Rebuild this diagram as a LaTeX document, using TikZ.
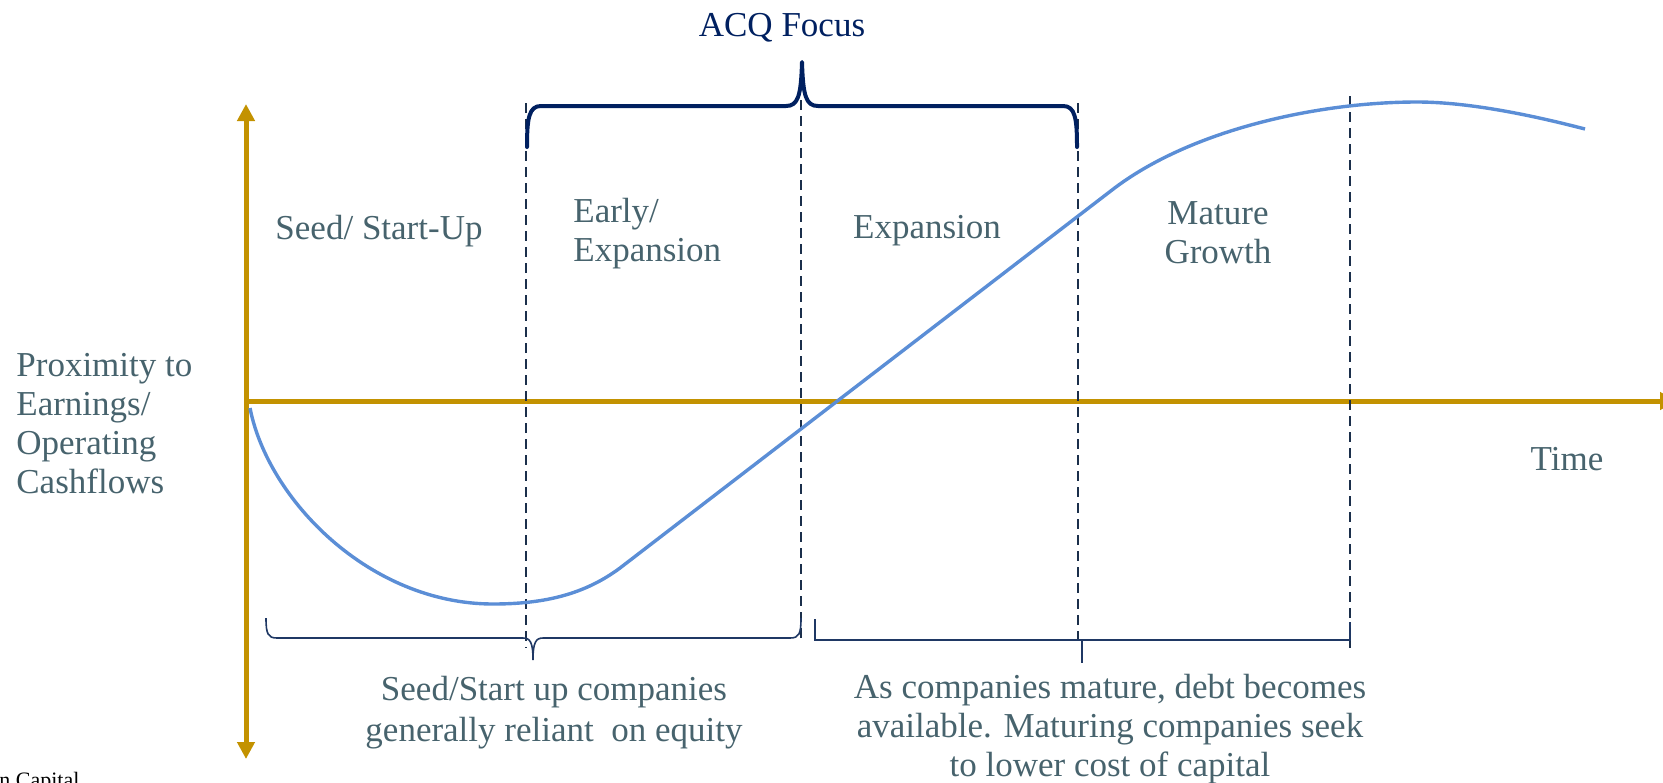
\documentclass[tikz,border=0pt]{standalone}
\usepackage{fontspec}
\setmainfont{Liberation Serif}
\usetikzlibrary{arrows.meta}
\definecolor{axisgold}{RGB}{195,146,0}
\definecolor{curveblue}{RGB}{91,142,214}
\definecolor{labelgray}{RGB}{71,99,109}
\definecolor{navy}{RGB}{0,32,96}
\definecolor{dashnavy}{RGB}{27,47,75}
\definecolor{bracenavy}{RGB}{31,56,100}
\tikzset{
  axisline/.style={draw=axisgold, line width=2.5pt},
  axishead/.style={-{Triangle[width=8.5pt,length=8.5pt]}},
  curveline/.style={draw=curveblue, line width=1.7pt},
  phaseline/.style={draw=dashnavy, line width=1.1pt, dash pattern=on 5pt off 3pt},
  topbrace/.style={draw=navy, line width=2pt, line cap=round, line join=round},
  lowbrace/.style={draw=bracenavy, line width=0.8pt},
  lbl/.style={text=labelgray, inner sep=0pt, font=\fontsize{17.5}{19.5}\selectfont},
  note/.style={text=labelgray, inner sep=0pt, align=center, font=\fontsize{17.5}{20.5}\selectfont}
}
\begin{document}
\begin{tikzpicture}[x=0.5pt,y=-0.5pt]
\useasboundingbox (0,0) rectangle (1663,782);
% axes
\coordinate (ytop) at (246,104);
\coordinate (ybot) at (246,759);
\coordinate (xorig) at (246,401);
\coordinate (xend) at (1677,401);
\draw[axisline, {Triangle[width=8.5pt,length=8.5pt]}-{Triangle[width=8.5pt,length=8.5pt]}] (ytop) -- (ybot);
\draw[axisline, axishead] (xorig) -- (xend);
% phase separators
\coordinate (d1t) at (526,103); \coordinate (d1b) at (526,648);
\coordinate (d2t) at (801,100); \coordinate (d2b) at (801,638);
\coordinate (d3t) at (1078,103); \coordinate (d3b) at (1078,640);
\coordinate (d4t) at (1350,96); \coordinate (d4b) at (1350,648);
\draw[phaseline] (d1t) -- (d1b);
\draw[phaseline] (d2t) -- (d2b);
\draw[phaseline] (d3t) -- (d3b);
\draw[phaseline] (d4t) -- (d4b);
% curve
\coordinate (c0) at (250,408);
\coordinate (cmin) at (493,604);
\coordinate (c1) at (620,568);
\coordinate (c2) at (1112,190);
\coordinate (cmax) at (1417,102);
\coordinate (cend) at (1585,129);
\draw[curveline] (c0) .. controls (268,500) and (370,604) .. (cmin)
  .. controls (545,604) and (585,594) .. (c1) -- (c2)
  .. controls (1191,129) and (1320,102) .. (cmax)
  .. controls (1470,102) and (1535,116) .. (cend);
% top brace
\coordinate (tbL) at (527,147);
\coordinate (tbT) at (802,62);
\coordinate (tbR) at (1077,147);
\draw[topbrace] (tbL) .. controls (527,118) and (529,106) .. (541,106) -- (786,106)
  .. controls (798,106) and (801,96) .. (tbT)
  .. controls (803,96) and (806,106) .. (818,106) -- (1063,106)
  .. controls (1075,106) and (1077,118) .. (tbR);
% lower left brace
\coordinate (lbL) at (266,618);
\coordinate (lbT) at (533,660);
\coordinate (lbR) at (801,618);
\draw[lowbrace] (lbL) .. controls (266,634) and (268,638) .. (277,638) -- (523,638)
  .. controls (530,638) and (533,642) .. (lbT)
  .. controls (533,642) and (536,638) .. (543,638) -- (790,638)
  .. controls (799,638) and (801,634) .. (lbR);
% lower right bracket
\coordinate (rbL) at (815,619);
\coordinate (rbC) at (815,640);
\coordinate (rbR) at (1350,640);
\coordinate (rbRt) at (1350,622);
\coordinate (rbTs) at (1082,640);
\coordinate (rbTe) at (1082,663);
\draw[lowbrace] (rbL) -- (rbC) -- (rbR) -- (rbRt);
\draw[lowbrace] (rbTs) -- (rbTe);
% labels
\node[lbl, text=navy] (acq) at (782,28) {ACQ Focus};
\node[lbl] (seed) at (379,231) {Seed/ Start-Up};
\node[lbl, anchor=west, align=left] (early) at (573,234) {Early/\\Expansion};
\node[lbl] (exp) at (927,231) {Expansion};
\node[lbl, align=center] (mature) at (1218,233) {Mature\\Growth};
\node[lbl, anchor=west, align=left] (prox) at (16,424) {Proximity to\\Earnings/\\Operating\\Cashflows};
\node[lbl] (time) at (1567,459) {Time};
\node[note] (eqnote) at (554,713) {Seed/Start up companies\\generally reliant~ on equity};
\node[note, font=\fontsize{17.5}{19.5}\selectfont] (debtnote) at (1110,729) {As companies mature, debt becomes\\available. Maturing companies seek\\to lower cost of capital};
\node[anchor=base west, inner sep=0pt, font=\fontsize{11}{13}\selectfont] (src) at (-1,787) {n Capital};
\end{tikzpicture}
\end{document}
